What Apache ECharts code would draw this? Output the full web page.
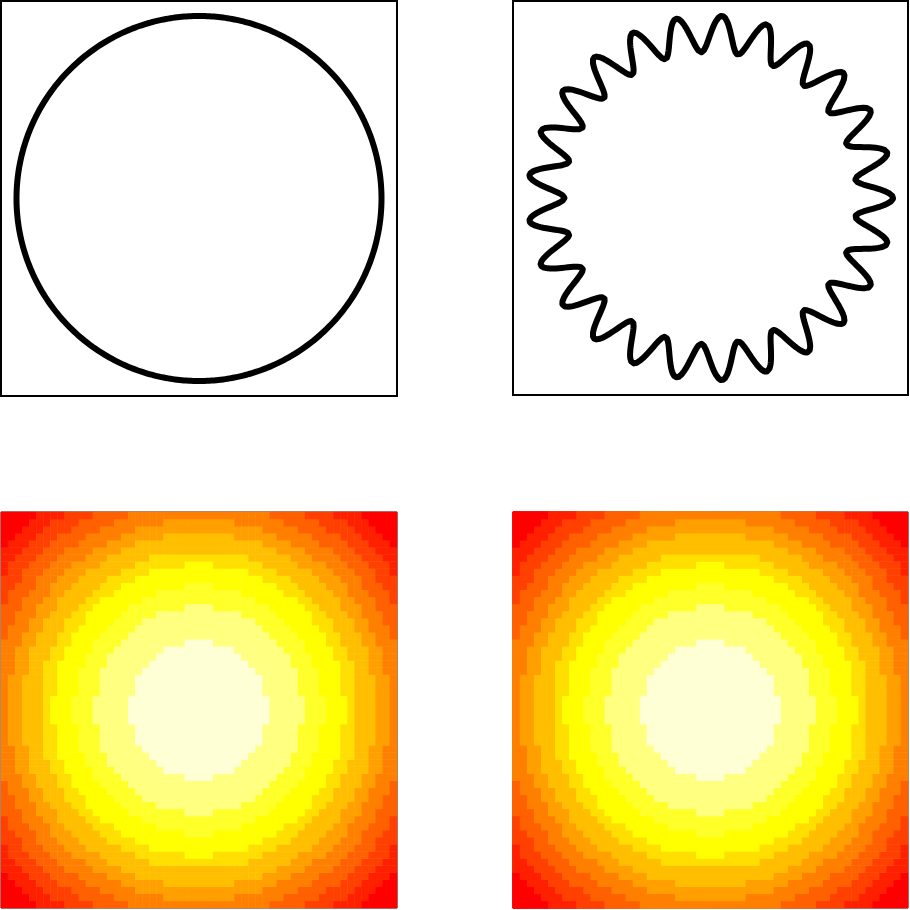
<!DOCTYPE html>
<html>
<head>
<meta charset="utf-8">
<script src="https://cdn.jsdelivr.net/npm/echarts@6/dist/echarts.min.js"></script>
<style>html,body{margin:0;padding:0;background:#fff;}#c{width:910px;height:910px;}</style>
</head>
<body>
<div id="c"></div>
<script>
// ---- data ----
const circleRadius = 1.0;          // plain circle radius (unit)
const waveBase = 0.9;              // wavy circle mean radius
const waveAmp = 0.1;               // wavy circle amplitude
const waveCount = 25;              // number of bumps
const curveSamples = 1000;
const unitPx = 182.5;              // pixels per unit in the line panels

const gridCells = 56;              // heatmap cells per side
// band boundaries, as a fraction of the half side, from centre outwards
const bandEdges = [0.345, 0.525, 0.63, 0.737, 0.803, 0.894, 0.965, 1.045, 1.12, 1.2, 1.283];
// colours from centre (highest) to corner (lowest)
const bandColors = ['#FFFFD5','#FFFF80','#FFFF2A','#FFFF00','#FFDF00','#FFBF00','#FF9F00','#FF8000','#FF6000','#FF4000','#FF2000','#FF0000'];

// ---- build ----
function curve(fn){
  const out=[];
  for(let k=0;k<=curveSamples;k++){
    const t=2*Math.PI*k/curveSamples;
    const r=fn(t);
    out.push([r*Math.cos(t), r*Math.sin(t)]);
  }
  return out;
}
const circleData = curve(()=>circleRadius);
const waveData = curve(t=>waveBase+waveAmp*Math.cos(waveCount*t));

const cats=[]; for(let i=0;i<gridCells;i++) cats.push(i);
const heatData=[];
for(let i=0;i<gridCells;i++){
  for(let j=0;j<gridCells;j++){
    const dx=((i+0.5)/gridCells)*2-1, dy=((j+0.5)/gridCells)*2-1;
    const r=Math.sqrt(dx*dx+dy*dy);
    let lev=0; while(lev<bandEdges.length && r>bandEdges[lev]) lev++;
    heatData.push([i,j,lev]);
  }
}

const grids=[
  {left:1,top:1,width:396,height:395},
  {left:513,top:1,width:395,height:394},
  {left:1,top:512,width:396,height:396},
  {left:513,top:512,width:395,height:396}
];
const xAxes=[], yAxes=[];
grids.forEach((g,i)=>{
  g.show=true; g.borderColor=i<2?'#000':'#2a1a10'; g.borderWidth=i<2?2:1; g.backgroundColor='#fff';
  if(i<2){
    const hx=g.width/2/unitPx, hy=g.height/2/unitPx;
    xAxes.push({type:'value',gridIndex:i,min:-hx,max:hx,show:false});
    yAxes.push({type:'value',gridIndex:i,min:-hy,max:hy,show:false});
  } else {
    xAxes.push({type:'category',gridIndex:i,data:cats,show:false});
    yAxes.push({type:'category',gridIndex:i,data:cats,show:false});
  }
});

const lineStyle={color:'#000',width:6,cap:'round',join:'round'};
const chart=echarts.init(document.getElementById('c'),null,{renderer:'canvas'});
chart.setOption({
  animation:false,
  grid:grids,
  xAxis:xAxes,
  yAxis:yAxes,
  visualMap:{
    type:'piecewise',show:false,seriesIndex:[2,3],dimension:2,
    pieces:bandColors.map((c,k)=>({value:k,color:c}))
  },
  series:[
    {type:'line',xAxisIndex:0,yAxisIndex:0,data:circleData,showSymbol:false,lineStyle:lineStyle},
    {type:'line',xAxisIndex:1,yAxisIndex:1,data:waveData,showSymbol:false,lineStyle:lineStyle},
    {type:'heatmap',xAxisIndex:2,yAxisIndex:2,data:heatData},
    {type:'heatmap',xAxisIndex:3,yAxisIndex:3,data:heatData}
  ]
});
</script>
</body>
</html>
